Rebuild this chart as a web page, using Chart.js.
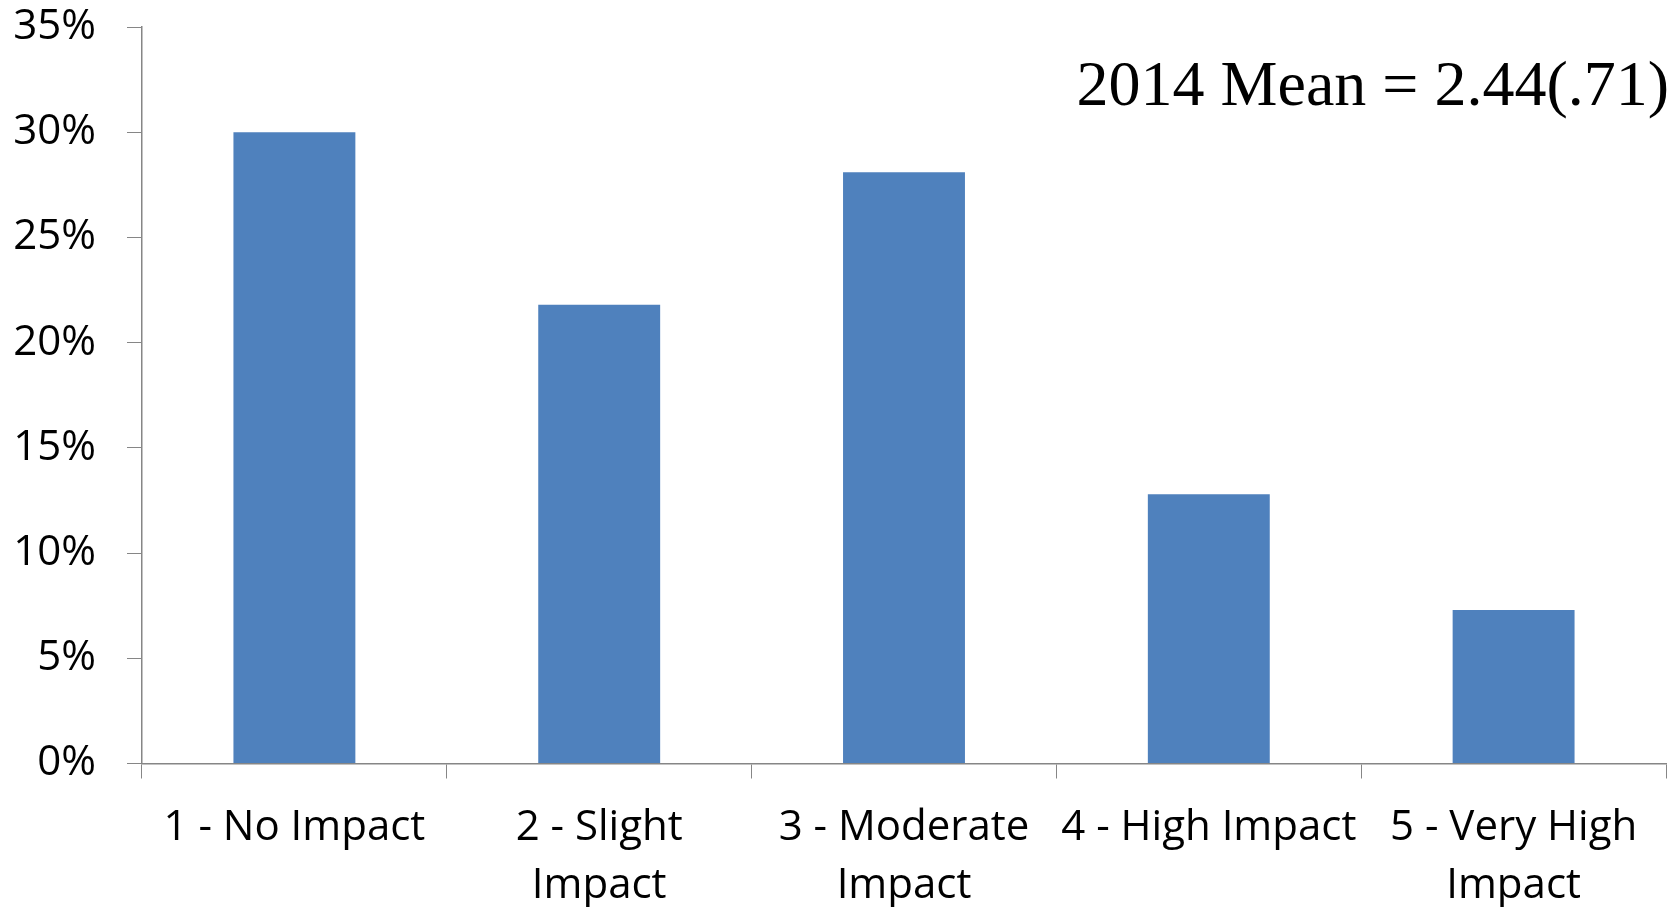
<!DOCTYPE html>
<html>
<head>
<meta charset="utf-8">
<script src="https://cdn.jsdelivr.net/npm/chart.js@4/dist/chart.umd.min.js"></script>
<style>
  html, body { margin: 0; padding: 0; background: #ffffff; }
  #wrap { width: 1671px; height: 907px; }
</style>
</head>
<body>
<div id="wrap"><canvas id="chart" width="1671" height="907"></canvas></div>
<script>
// Impact ratings (share of respondents)
const categories = [
  ['1 - No Impact'],
  ['2 - Slight', 'Impact'],
  ['3 - Moderate', 'Impact'],
  ['4 - High Impact'],
  ['5 - Very High', 'Impact']
];
const shares = [0.300, 0.218, 0.281, 0.128, 0.073];
const yTickValues = [0, 0.05, 0.10, 0.15, 0.20, 0.25, 0.30, 0.35];
const meanNote = '2014 Mean = 2.44(.71)';

const axisGray = '#868686';
const labelFont = { family: '"Open Sans", sans-serif', size: 42, lineHeight: 1.37 };

// Annotation in the upper right corner
const notePlugin = {
  id: 'meanNote',
  afterDraw(chart) {
    const ctx = chart.ctx;
    ctx.save();
    ctx.font = '64px "Liberation Serif", "Times New Roman", serif';
    ctx.fillStyle = '#000000';
    ctx.textAlign = 'right';
    ctx.textBaseline = 'alphabetic';
    ctx.fillText(meanNote, chart.width - 2, 105);
    ctx.restore();
  }
};

new Chart(document.getElementById('chart'), {
  type: 'bar',
  data: {
    labels: categories,
    datasets: [{
      data: shares,
      backgroundColor: '#4F81BD',
      borderWidth: 0,
      barPercentage: 0.4,
      categoryPercentage: 1.0
    }]
  },
  options: {
    responsive: false,
    animation: false,
    layout: { padding: { top: 27, right: 5, left: 0, bottom: 0 } },
    plugins: {
      legend: { display: false },
      tooltip: { enabled: false }
    },
    scales: {
      x: {
        grid: {
          offset: true,
          drawOnChartArea: false,
          drawTicks: true,
          tickLength: 15,
          color: axisGray
        },
        border: { display: true, color: axisGray, width: 1.5 },
        ticks: {
          color: '#000000',
          font: labelFont,
          padding: 21,
          maxRotation: 0,
          autoSkip: false
        },
        afterFit(scale) { scale.height = 143.5; }
      },
      y: {
        min: 0,
        max: 0.35,
        afterBuildTicks(scale) {
          scale.ticks = yTickValues.map(v => ({ value: v }));
        },
        grid: {
          drawOnChartArea: false,
          drawTicks: true,
          tickLength: 15,
          color: axisGray
        },
        border: { display: true, color: axisGray, width: 1.5 },
        ticks: {
          color: '#000000',
          font: { family: '"Open Sans", sans-serif', size: 42 },
          padding: 31,
          callback: v => Math.round(v * 100) + '%'
        },
        afterFit(scale) {
          scale.width = 142;
          scale.paddingTop = 0;
          scale.paddingBottom = 0;
        }
      }
    }
  },
  plugins: [notePlugin]
});
</script>
</body>
</html>
